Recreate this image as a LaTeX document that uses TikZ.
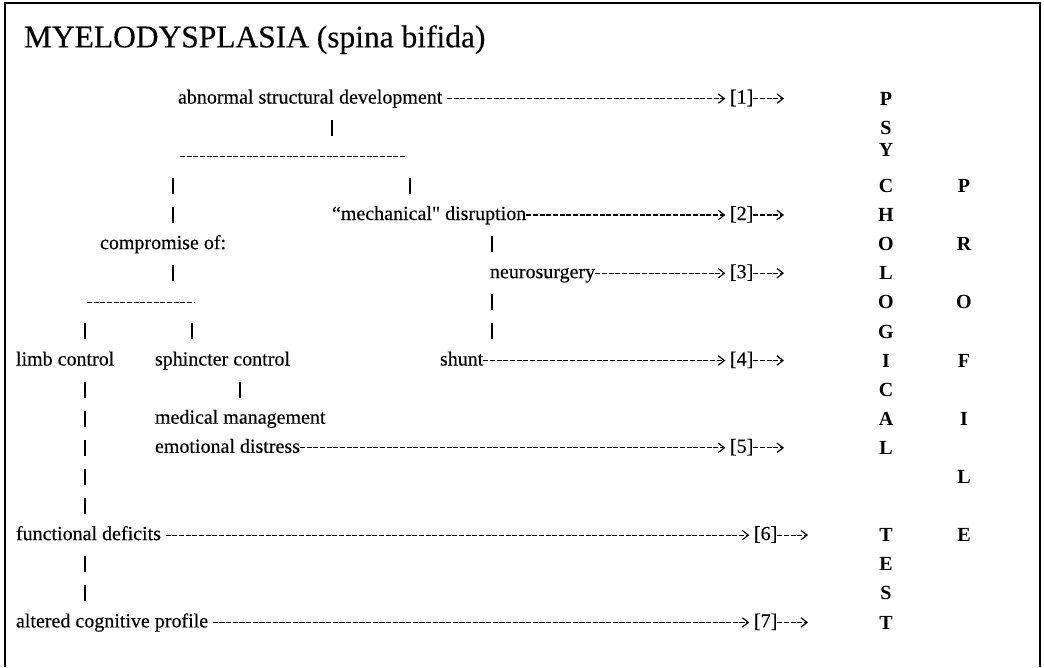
\documentclass[tikz,border=0pt]{standalone}
\usepackage{fontspec}
\setmainfont{Liberation Serif}
\newfontfamily\scanfont{Liberation Serif}[FakeBold=0.3]
\usetikzlibrary{arrows.meta}

\begin{document}
\begin{tikzpicture}[x=0.75pt,y=-0.75pt,
  every node/.style={anchor=west, inner sep=0pt, outer sep=0pt, text height=10.5pt, text depth=3pt, font=\scanfont\fontsize{15}{18}\selectfont},
  letter/.style={anchor=center, text height=10pt, text depth=0pt, font=\fontsize{15}{18}\selectfont\bfseries},
  hyph/.style={line width=0.9pt, dash pattern=on 3.8pt off 1.2pt},
  arr/.style={hyph, -{Straight Barb[length=4.5pt,width=7pt,line width=0.9pt]}},
  bar/.style={line width=0.9pt, dash pattern=on 12pt off 9.83pt, dash phase=12.75pt}]
\useasboundingbox (0,0) rectangle (1044,667);
\draw[line width=1.2pt] (5,667) -- (5,3) -- (1040,3) -- (1040,667);

\node[font=\scanfont\fontsize{23.6}{28}\selectfont, text height=16pt, text depth=5pt] (title) at (24,40) {MYELODYSPLASIA (spina bifida)};

\node (asd) at (178,98.6) {abnormal structural development};
\node (n1) at (730,98.6) {[1]};
\node (mech) at (332,215) {“mechanical" disruption};
\node (n2) at (730,215) {[2]};
\node (comp) at (100,244.1) {compromise of:};
\node (neuro) at (490,273.2) {neurosurgery};
\node (n3) at (730,273.2) {[3]};
\node (limb) at (16,360.5) {limb control};
\node (sph) at (155,360.5) {sphincter control};
\node (shunt) at (440,360.5) {shunt};
\node (n4) at (730,360.5) {[4]};
\node (med) at (155,418.7) {medical management};
\node (emo) at (155,447.8) {emotional distress};
\node (n5) at (730,447.8) {[5]};
\node (func) at (16,535.1) {functional deficits};
\node (n6) at (754,535.1) {[6]};
\node (cog) at (16,622.4) {altered cognitive profile};
\node (n7) at (754,622.4) {[7]};

\node[letter] (ps1) at (886,98.6) {P};
\node[letter] (ps2) at (886,128) {S};
\node[letter] (ps3) at (886,150) {Y};
\node[letter] (ps4) at (886,185.9) {C};
\node[letter] (ps5) at (886,215) {H};
\node[letter] (ps6) at (886,244.1) {O};
\node[letter] (ps7) at (886,273.2) {L};
\node[letter] (ps8) at (886,302.3) {O};
\node[letter] (ps9) at (886,331.4) {G};
\node[letter] (ps10) at (886,360.5) {I};
\node[letter] (ps11) at (886,389.6) {C};
\node[letter] (ps12) at (886,418.7) {A};
\node[letter] (ps13) at (886,447.8) {L};
\node[letter] (te1) at (886,535.1) {T};
\node[letter] (te2) at (886,564.2) {E};
\node[letter] (te3) at (886,593.3) {S};
\node[letter] (te4) at (886,622.4) {T};

\node[letter] (pr1) at (964,185.9) {P};
\node[letter] (pr2) at (964,244.1) {R};
\node[letter] (pr3) at (964,302.3) {O};
\node[letter] (pr4) at (964,360.5) {F};
\node[letter] (pr5) at (964,418.7) {I};
\node[letter] (pr6) at (964,476.9) {L};
\node[letter] (pr7) at (964,535.1) {E};

\coordinate (top) at (332,156.8);
\coordinate (tl) at (180,156.8);
\coordinate (tr) at (405,156.8);
\coordinate (bl) at (87,302.3);
\coordinate (br) at (195,302.3);
\coordinate (c1) at (173,0);
\coordinate (c2) at (410,0);
\coordinate (c3) at (492,0);
\coordinate (c4) at (85,0);
\coordinate (c5) at (192,0);
\coordinate (c6) at (240,0);
\coordinate (o1) at (784,98.6);
\coordinate (o2) at (784,215);
\coordinate (o3) at (784,273.2);
\coordinate (o4) at (784,360.5);
\coordinate (o5) at (784,447.8);
\coordinate (o6) at (808,535.1);
\coordinate (o7) at (808,622.4);

\draw[hyph] (tl) -- (tr);
\draw[hyph] (bl) -- (br);
\draw[bar, shorten >=6.75pt] (asd.south -| top) -- (top);
\draw[bar, shorten <=6.75pt] (tl -| c1) -- (comp.north -| c1);
\draw[bar, shorten <=6.75pt] (tr -| c2) -- (mech.north -| c2);
\draw[bar, shorten >=6.75pt] (comp.south -| c1) -- (bl -| c1);
\draw[bar, shorten <=6.75pt] (bl -| c4) -- (limb.north -| c4);
\draw[bar, shorten <=6.75pt] (br -| c5) -- (sph.north -| c5);
\draw[bar] (limb.south -| c4) -- (func.north -| c4);
\draw[bar] (func.south -| c4) -- (cog.north -| c4);
\draw[bar] (sph.south -| c6) -- (med.north -| c6);
\draw[bar] (mech.south -| c3) -- (neuro.north -| c3);
\draw[bar] (neuro.south -| c3) -- (shunt.north -| c3);

\draw[arr, shorten <=3.5pt, shorten >=3.5pt] (asd.east) -- (n1.west);
\draw[arr, shorten >=3.5pt] (mech.east) -- (n2.west);
\draw[arr, shorten >=3.5pt] (neuro.east) -- (n3.west);
\draw[arr, shorten >=3.5pt] (shunt.east) -- (n4.west);
\draw[arr, shorten >=3.5pt] (emo.east) -- (n5.west);
\draw[arr, shorten <=3.5pt, shorten >=3.5pt] (func.east) -- (n6.west);
\draw[arr, shorten <=3.5pt, shorten >=3.5pt] (cog.east) -- (n7.west);
\draw[arr] (n1.east) -- (o1);
\draw[arr] (n2.east) -- (o2);
\draw[arr] (n3.east) -- (o3);
\draw[arr] (n4.east) -- (o4);
\draw[arr] (n5.east) -- (o5);
\draw[arr] (n6.east) -- (o6);
\draw[arr] (n7.east) -- (o7);
\end{tikzpicture}
\end{document}
